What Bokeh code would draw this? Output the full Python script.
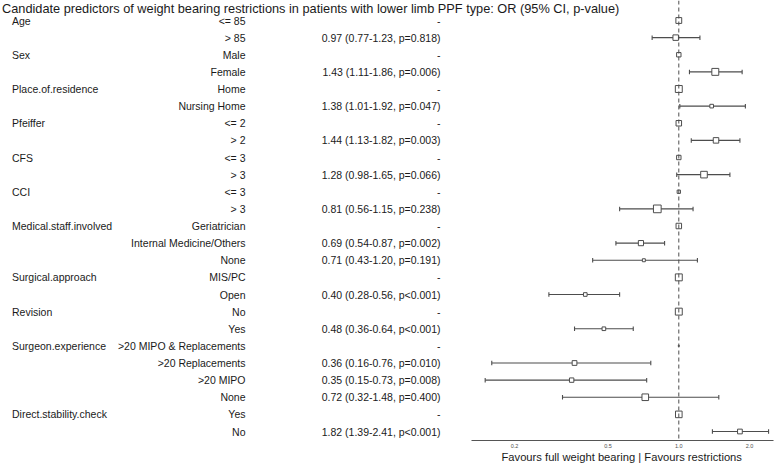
import math
from bokeh.plotting import figure
from bokeh.models import (Range1d, LogScale, LogAxis, FixedTicker, Span, ColumnDataSource,
                          PrintfTickFormatter, Title)
from bokeh.core.properties import value
from bokeh.embed import file_html
from bokeh.resources import INLINE

# ---------------- data ----------------
title_text = "Candidate predictors of weight bearing restrictions in patients with lower limb PPF type: OR (95% CI, p-value)"
x_axis_title = "Favours full weight bearing | Favours restrictions"

variables = ["Age", "", "Sex", "", "Place.of.residence", "", "Pfeiffer", "", "CFS", "",
             "CCI", "", "Medical.staff.involved", "", "", "Surgical.approach", "",
             "Revision", "", "Surgeon.experience", "", "", "", "Direct.stability.check", ""]
levels = ["<= 85", "> 85", "Male", "Female", "Home", "Nursing Home", "<= 2", "> 2",
          "<= 3", "> 3", "<= 3", "> 3", "Geriatrician", "Internal Medicine/Others", "None",
          "MIS/PC", "Open", "No", "Yes", ">20 MIPO & Replacements", ">20 Replacements",
          ">20 MIPO", "None", "Yes", "No"]
odds_ratio = [None, 0.97, None, 1.43, None, 1.38, None, 1.44, None, 1.28, None, 0.81,
              None, 0.69, 0.71, None, 0.40, None, 0.48, None, 0.36, 0.35, 0.72, None, 1.82]
ci_lower = [None, 0.77, None, 1.11, None, 1.01, None, 1.13, None, 0.98, None, 0.56,
            None, 0.54, 0.43, None, 0.28, None, 0.36, None, 0.16, 0.15, 0.32, None, 1.39]
ci_upper = [None, 1.23, None, 1.86, None, 1.92, None, 1.82, None, 1.65, None, 1.15,
            None, 0.87, 1.20, None, 0.56, None, 0.64, None, 0.76, 0.73, 1.48, None, 2.41]
p_values = [None, "0.818", None, "0.006", None, "0.047", None, "0.003", None, "0.066", None, "0.238",
            None, "0.002", "0.191", None, "<0.001", None, "<0.001", None, "0.010", "0.008", "0.400",
            None, "<0.001"]
# relative group size (drives box size)
group_weight = [5.3, 5.0, 4.0, 6.3, 6.3, 3.3, 5.0, 5.0, 4.0, 6.0, 3.0, 7.0, 5.0, 4.7, 2.7,
                6.3, 3.3, 6.3, 3.3, 1.0, 4.3, 4.0, 6.0, 6.0, 4.3]
tick_values = [0.2, 0.5, 1.0, 2.0]

# ---------------- layout ----------------
W, H = 783, 464
FRAME_BOTTOM = 440
n = len(levels)
row_top_px, row_bot_px = 20.0, 431.0
step = (row_bot_px - row_top_px) / (n - 1)
y_top = 1 - row_top_px / step
y_bot = 1 + (FRAME_BOTTOM - row_top_px) / step

px_per_decade = 235.0
one_px = 678.3
f_start = 10 ** (-one_px / px_per_decade)
f_end = 10 ** ((W - one_px) / px_per_decade)
axis_lo = 10 ** ((471 - one_px) / px_per_decade)
axis_hi = 10 ** ((773 - one_px) / px_per_decade)

rows = list(range(1, n + 1))

p = figure(width=W, height=H, output_backend="svg", toolbar_location=None,
           x_range=Range1d(0, W), y_range=Range1d(y_bot, y_top),
           min_border_left=0, min_border_right=0, min_border_top=0,
           min_border_bottom=H - FRAME_BOTTOM,
           x_axis_type=None, y_axis_type=None)
p.outline_line_color = None
p.grid.visible = False
p.background_fill_color = "white"
p.border_fill_color = "white"
p.extra_x_ranges = {"forest": Range1d(f_start, f_end)}
p.extra_x_scales = {"forest": LogScale()}

FONT = value("Liberation Sans")
TXT = "#1a1a1a"
FS = value("10.5px")

# title
p.text(x=[1.5], y=[y_top], text=[title_text], text_font=FONT, text_font_size=value("12.75px"),
       text_baseline="top", text_align="left", text_color=TXT)

# table columns
p.text(x=[11.5] * n, y=rows, text=variables, text_font=FONT, text_font_size=FS,
       text_baseline="middle", text_align="left", text_color=TXT)
p.text(x=[245] * n, y=rows, text=levels, text_font=FONT, text_font_size=FS,
       text_baseline="middle", text_align="right", text_color=TXT)
or_labels = []
for o, lo, hi, pv in zip(odds_ratio, ci_lower, ci_upper, p_values):
    if o is None:
        or_labels.append("-")
    else:
        ptxt = "p" + pv if pv.startswith("<") else "p=" + pv
        or_labels.append(f"{o:.2f} ({lo:.2f}-{hi:.2f}, {ptxt})")
p.text(x=[440] * n, y=rows, text=or_labels, text_font=FONT, text_font_size=FS,
       text_baseline="middle", text_align="right", text_color=TXT)

# reference line
p.add_layout(Span(location=1.0, dimension="height", x_range_name="forest",
                  line_color="#4d4d4d", line_width=1, line_dash="4 3"))

# error bars
ci_src = ColumnDataSource(dict(
    y=[r for r, o in zip(rows, odds_ratio) if o is not None],
    lo=[l for l in ci_lower if l is not None],
    hi=[h for h in ci_upper if h is not None],
))
p.segment(x0="lo", x1="hi", y0="y", y1="y", source=ci_src, x_range_name="forest",
          line_color="#4d4d4d", line_width=1.1)
p.scatter(x="lo", y="y", source=ci_src, x_range_name="forest", marker="dash", angle=math.pi / 2,
          size=4.5, line_color="#4d4d4d", line_width=1.1)
p.scatter(x="hi", y="y", source=ci_src, x_range_name="forest", marker="dash", angle=math.pi / 2,
          size=4.5, line_color="#4d4d4d", line_width=1.1)

# boxes
pt_src = ColumnDataSource(dict(
    x=[o if o is not None else 1.0 for o in odds_ratio],
    y=rows,
    s=[w * 1.1 for w in group_weight],
))
p.scatter(x="x", y="y", size="s", source=pt_src, x_range_name="forest", marker="square",
          fill_color="white", line_color="#4d4d4d", line_width=1)

# axis
ax = LogAxis(x_range_name="forest", ticker=FixedTicker(ticks=tick_values),
             formatter=PrintfTickFormatter(format="%.1f"), bounds=(axis_lo, axis_hi))
ax.axis_line_color = "#555555"
ax.axis_line_width = 1.1
ax.major_tick_line_color = None
ax.minor_tick_line_color = None
ax.major_tick_out = 0
ax.major_tick_in = 0
ax.major_label_standoff = 3
ax.major_label_text_font = "Liberation Sans"
ax.major_label_text_font_size = "5.5px"
ax.major_label_text_color = "#4d4d4d"
p.add_layout(ax, "below")

# axis title centred under the axis line (text width ~242px at 11.2px)
axis_centre_px = (471 + 773) / 2
p.add_layout(Title(text=x_axis_title, align="left", offset=axis_centre_px - 121,
                   vertical_align="top",
                   text_font="Liberation Sans", text_font_size="11.2px",
                   text_font_style="normal", text_color=TXT, standoff=0), "below")

open("out.html", "w").write(file_html(p, INLINE))
